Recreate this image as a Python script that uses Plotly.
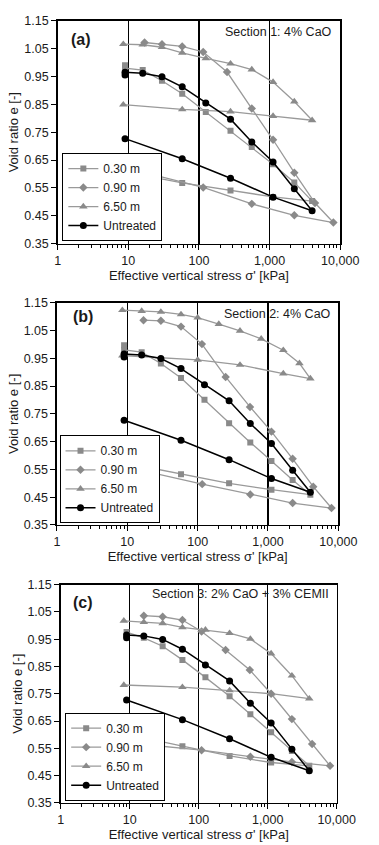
import plotly.graph_objects as go

# ---------------- data ----------------
X_TICKS = [1, 10, 100, 1000, 10000]
X_TICK_TEXT = ["1", "10", "100", "1,000", "10,000"]
SERIES_NAMES = ["0.30 m", "0.90 m", "6.50 m", "Untreated"]
PANEL_LABELS = ["(a)", "(b)", "(c)"]
SECTION_TITLES = ["Section 1: 4% CaO", "Section 2: 4% CaO", "Section 3: 2% CaO + 3% CEMII"]

UNT_X = [9, 9, 16, 30, 58, 125, 280, 560, 1120, 2240, 4000, 1120, 280, 58, 9]
UNT_E = [0.955, 0.965, 0.962, 0.949, 0.913, 0.855, 0.797, 0.715, 0.643, 0.547, 0.468, 0.517, 0.585, 0.655, 0.727]

# Panel (a)
A_030_X = [9, 9, 16, 30, 58, 125, 280, 560, 1120, 2240, 4000, 1120, 280, 58, 9]
A_030_E = [0.99, 0.98, 0.973, 0.935, 0.888, 0.823, 0.755, 0.697, 0.635, 0.57, 0.503, 0.518, 0.541, 0.568, 0.608]
A_090_X = [17, 30, 58, 115, 250, 560, 1120, 2240, 4400, 8000, 2240, 560, 115, 17]
A_090_E = [1.072, 1.066, 1.058, 1.038, 0.966, 0.835, 0.723, 0.605, 0.496, 0.426, 0.452, 0.493, 0.552, 0.605]
A_650_X = [8.5, 16, 30, 58, 125, 280, 560, 1120, 2240, 4000, 1120, 280, 58, 8.5]
A_650_E = [1.066, 1.064, 1.055, 1.035, 1.015, 0.996, 0.975, 0.930, 0.860, 0.793, 0.808, 0.824, 0.832, 0.849]

# Panel (b)
B_030_X = [9, 9, 16, 30, 58, 125, 280, 560, 1120, 2240, 4000, 1120, 280, 58, 9]
B_030_E = [0.997, 0.98, 0.972, 0.931, 0.879, 0.801, 0.716, 0.647, 0.58, 0.512, 0.459, 0.477, 0.50, 0.533, 0.574]
B_090_X = [17, 30, 58, 115, 250, 555, 1120, 2240, 4400, 8000, 2240, 560, 116, 17]
B_090_E = [1.087, 1.085, 1.064, 1.001, 0.883, 0.775, 0.686, 0.588, 0.488, 0.411, 0.429, 0.46, 0.497, 0.545]
B_650_X = [8.5, 16, 30, 58, 100, 200, 400, 800, 1650, 2800, 4000, 1650, 400, 100, 8.5]
B_650_E = [1.123, 1.12, 1.117, 1.108, 1.096, 1.073, 1.049, 1.02, 0.979, 0.932, 0.877, 0.895, 0.926, 0.944, 0.96]

# Panel (c)
C_030_X = [9, 16, 30, 58, 125, 280, 560, 1120, 2240, 4000, 1120, 280, 58, 9]
C_030_E = [0.976, 0.955, 0.924, 0.874, 0.81, 0.741, 0.675, 0.609, 0.54, 0.486, 0.498, 0.522, 0.558, 0.602]
C_090_X = [16, 30, 58, 110, 245, 550, 1120, 2240, 4400, 8000, 2240, 560, 110, 16]
C_090_E = [1.036, 1.032, 1.02, 0.978, 0.91, 0.837, 0.75, 0.657, 0.566, 0.486, 0.50, 0.519, 0.543, 0.564]
C_650_X = [8.2, 16, 30, 58, 125, 280, 560, 1120, 2240, 4000, 1120, 280, 58, 8.2]
C_650_E = [1.017, 1.012, 1.008, 0.993, 0.984, 0.972, 0.951, 0.897, 0.816, 0.732, 0.75, 0.762, 0.774, 0.782]

PANELS = [
    [(A_030_X, A_030_E), (A_090_X, A_090_E), (A_650_X, A_650_E), (UNT_X, UNT_E)],
    [(B_030_X, B_030_E), (B_090_X, B_090_E), (B_650_X, B_650_E), (UNT_X, UNT_E)],
    [(C_030_X, C_030_E), (C_090_X, C_090_E), (C_650_X, C_650_E), (UNT_X, UNT_E)],
]

# ---------------- styling ----------------
FONT = "Liberation Sans, Arial, sans-serif"
SYMBOLS = ["square", "diamond", "triangle-up", "circle"]
SIZES = [6, 6.5, 7.5, 7]
LINE_COLORS = ["#9a9a9a", "#9a9a9a", "#9a9a9a", "#000000"]
MARKER_COLORS = ["#8a8a8a", "#8a8a8a", "#8a8a8a", "#000000"]
LINE_WIDTHS = [1.3, 1.3, 1.3, 1.5]

W, H = 379, 845


def px_x(px):
    return px / W


def px_y(py):
    return 1 - py / H


# plot areas in page pixels: (left, right, top, bottom)
AREAS = [(58, 358, 14, 240.7), (57.3, 356, 300.7, 526.7), (61.3, 354.3, 587.3, 809.3)]
LEGEND_PX = [(63, 238), (60, 525), (66, 807)]
LABEL_POS = [(0.04, 0.916), (0.049, 0.937), (0.036, 0.92)]
SECTION_POS = [(0.979, 0.951), (0.98, 0.951), (0.98, 0.958)]

fig = go.Figure()
layout = dict(
    width=W, height=H,
    margin=dict(l=0, r=0, t=0, b=0),
    paper_bgcolor="white", plot_bgcolor="white",
    font=dict(family=FONT, size=12.5, color="#1a1a1a"),
    hovermode=False,
    annotations=[],
)

for p in range(3):
    sfx = "" if p == 0 else str(p + 1)
    leg = "legend" if p == 0 else "legend" + str(p + 1)
    l, r, t, b = AREAS[p]
    for s in range(4):
        xs, es = PANELS[p][s]
        fig.add_trace(go.Scatter(
            x=xs, y=es, mode="lines+markers", name=SERIES_NAMES[s],
            xaxis="x" + sfx, yaxis="y" + sfx, legend=leg,
            line=dict(color=LINE_COLORS[s], width=LINE_WIDTHS[s]),
            marker=dict(symbol=SYMBOLS[s], size=SIZES[s], color=MARKER_COLORS[s],
                        line=dict(width=0)),
            showlegend=True,
        ))
    layout["xaxis" + sfx] = dict(
        type="log", range=[0, 4], domain=[px_x(l), px_x(r)], anchor="y" + sfx,
        tickmode="array", tickvals=X_TICKS, ticktext=X_TICK_TEXT,
        ticks="outside", ticklen=5, tickcolor="black",
        showline=True, linecolor="black", linewidth=1.5, mirror=True,
        showgrid=True, gridcolor="black", gridwidth=1.2,
        minor=dict(ticks="outside", ticklen=3, tickcolor="black", dtick="D1", showgrid=False),
        tickfont=dict(size=12.5, color="#1a1a1a"),
        title=dict(text="Effective vertical stress σ' [kPa]", font=dict(size=13, color="#1a1a1a"), standoff=0),
        zeroline=False,
    )
    layout["yaxis" + sfx] = dict(
        range=[0.35, 1.15], domain=[px_y(b), px_y(t)], anchor="x" + sfx,
        tick0=0.35, dtick=0.1, tickformat=".2f",
        ticks="outside", ticklen=5, tickcolor="black",
        showline=True, linecolor="black", linewidth=1.5, mirror=True,
        showgrid=False, zeroline=False,
        tickfont=dict(size=12.5, color="#1a1a1a"),
        title=dict(text="Void ratio e [-]", font=dict(size=13, color="#1a1a1a"), standoff=2),
    )
    layout[leg] = dict(
        x=px_x(LEGEND_PX[p][0]), y=px_y(LEGEND_PX[p][1]), xanchor="left", yanchor="bottom",
        bgcolor="white", bordercolor="black", borderwidth=1,
        font=dict(size=12, color="#1a1a1a"), itemwidth=30, tracegroupgap=0,
    )
    layout["annotations"].append(dict(
        text="<b>" + PANEL_LABELS[p] + "</b>", xref="x" + sfx + " domain", yref="y" + sfx + " domain",
        x=LABEL_POS[p][0], y=LABEL_POS[p][1], xanchor="left", yanchor="middle",
        showarrow=False, font=dict(size=16, color="#1a1a1a"),
    ))
    layout["annotations"].append(dict(
        text=SECTION_TITLES[p], xref="x" + sfx + " domain", yref="y" + sfx + " domain",
        x=SECTION_POS[p][0], y=SECTION_POS[p][1], xanchor="right", yanchor="middle",
        showarrow=False, font=dict(size=12.5, color="#1a1a1a"),
    ))

fig.update_layout(**layout)
fig.write_html("out.html", config={"displayModeBar": False, "staticPlot": True},
               post_script="document.body.style.margin='0px';")
